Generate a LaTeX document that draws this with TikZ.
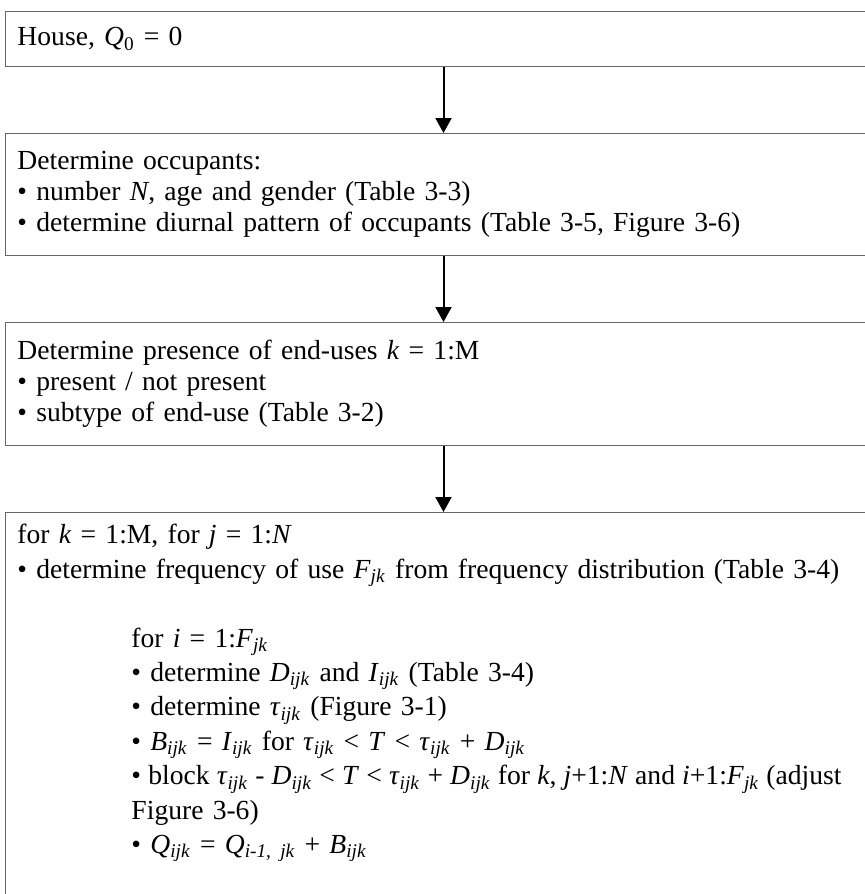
\documentclass[tikz,border=0pt]{standalone}
\usepackage{fontspec}
\setmainfont{Liberation Serif}
\usetikzlibrary{arrows.meta, positioning}
\newcommand{\vr}[2]{\textit{#1}\textsubscript{\textit{#2}}}
\newcommand{\ind}{\hspace*{57pt}}
\tikzset{
    stage/.style={rectangle, draw=black!60, line width=0.5pt, fill=white, align=left, text width=426pt, inner xsep=6pt, inner ysep=6pt, font=\fontsize{13.8}{15.5}\selectfont},
    arrow/.style={line width=1pt, -{Triangle[length=7.5pt, width=8pt]}}
}
\begin{document}
\begin{tikzpicture}[node distance=33pt]
    \useasboundingbox (0,0) rectangle (432pt,-447pt);
    \node (house) [stage, anchor=north west, minimum height=27.5pt] at (2.5pt,-5.5pt) {House, \textit{Q}\textsubscript{0} = 0};
    \node (occup) [stage, below=of house, minimum height=61pt] {Determine occupants:\\
        • number \textit{N}, age and gender (Table 3-3)\\
        • determine diurnal pattern of occupants (Table 3-5, Figure 3-6)};
    \node (enduse) [stage, below=of occup, minimum height=61.5pt] {Determine presence of end-uses \textit{k} = 1:M\\
        • present / not present\\
        • subtype of end-use (Table 3-2)};
    \node (loop) [stage, below=of enduse, font=\fontsize{13.8}{17.2}\selectfont] {for \textit{k} = 1:M, for \textit{j} = 1:\textit{N}\\
        • determine frequency of use \vr{F}{jk} from frequency distribution (Table 3-4)\\[17.2pt]
        \ind for \textit{i} = 1:\vr{F}{jk}\\
        \ind • determine \vr{D}{ijk} and \vr{I}{ijk} (Table 3-4)\\
        \ind • determine \vr{τ}{ijk} (Figure 3-1)\\
        \ind • \vr{B}{ijk} = \vr{I}{ijk} for \vr{τ}{ijk} < \textit{T} < \vr{τ}{ijk} + \vr{D}{ijk}\\
        \ind {\spaceskip=0.26em\relax\xspaceskip=0.26em\relax • block \vr{τ}{ijk} - \vr{D}{ijk} < \textit{T} < \vr{τ}{ijk} + \vr{D}{ijk} for \textit{k}, \textit{j}+1:\textit{N} and \textit{i}+1:\vr{F}{jk} (adjust}\\
        \ind Figure 3-6)\\
        \ind • \vr{Q}{ijk} = \vr{Q}{i-1, jk} + \vr{B}{ijk}\\[40pt]\mbox{}};

    \draw [arrow] (house) -- (occup);
    \draw [arrow] (occup) -- (enduse);
    \draw [arrow] (enduse) -- (loop);
\end{tikzpicture}
\end{document}
